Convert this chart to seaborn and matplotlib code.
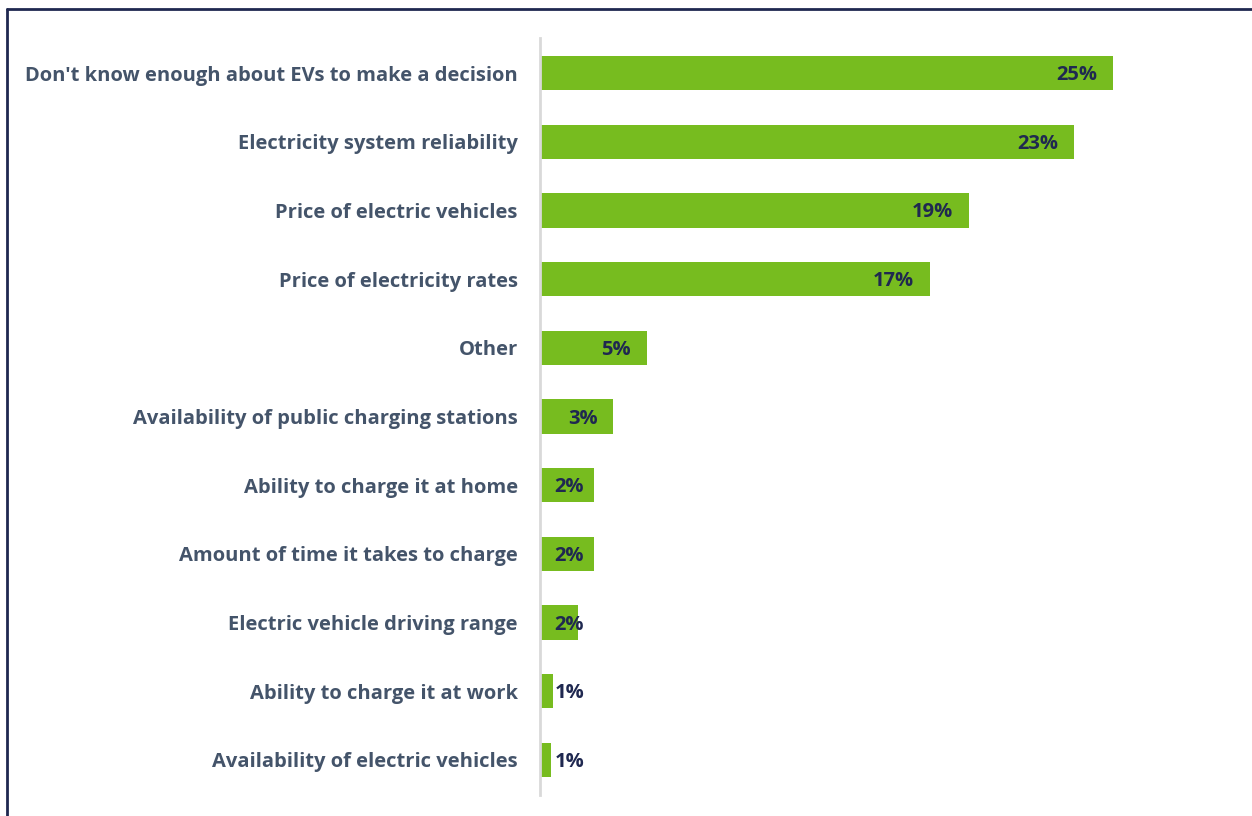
import matplotlib
matplotlib.use("Agg")
import matplotlib.pyplot as plt
import matplotlib.transforms as mtransforms
import seaborn as sns
import pandas as pd
from matplotlib.lines import Line2D

categories = [
    "Don't know enough about EVs to make a decision",
    "Electricity system reliability",
    "Price of electric vehicles",
    "Price of electricity rates",
    "Other",
    "Availability of public charging stations",
    "Ability to charge it at home",
    "Amount of time it takes to charge",
    "Electric vehicle driving range",
    "Ability to charge it at work",
    "Availability of electric vehicles",
]
values = [25.0, 23.3, 18.7, 17.0, 4.67, 3.2, 2.36, 2.36, 1.66, 0.57, 0.48]
value_labels = ["25%", "23%", "19%", "17%", "5%", "3%", "2%", "2%", "2%", "1%", "1%"]

bar_color = "#77BC1F"
label_color = "#44546A"
value_color = "#1F2850"

sns.set_theme(style="white")
plt.rcParams["font.family"] = ["Open Sans", "DejaVu Sans"]

df = pd.DataFrame({"cat": categories, "val": values})

fig = plt.figure(figsize=(12.52, 8.16), dpi=100)
ax = fig.add_axes([540 / 1252, 1 - 795 / 816, 619 / 1252, (795 - 38) / 816])

sns.barplot(data=df, x="val", y="cat", orient="h", color=bar_color,
            width=0.5, saturation=1, ax=ax, edgecolor="none")

ax.set_xlim(0, 27)
ax.set_ylim(10.51, -0.51)
ax.set_xlabel("")
ax.set_ylabel("")
ax.set_xticks([])
for s in ["top", "right", "bottom"]:
    ax.spines[s].set_visible(False)
ax.spines["left"].set_color("#D9D9D9")
ax.spines["left"].set_linewidth(2)
ax.tick_params(axis="y", length=0, pad=16)
shift = mtransforms.ScaledTranslation(0, -2 / 100, fig.dpi_scale_trans)
for t in ax.get_yticklabels():
    t.set_fontsize(14.5)
    t.set_fontweight("bold")
    t.set_color(label_color)

for i, (v, lab) in enumerate(zip(values, value_labels)):
    x = max(v - 0.7, 1.92)
    ax.text(x, i, lab, ha="right", va="center", fontsize=14.5,
            fontweight="bold", color=value_color,
            transform=ax.transData + shift)

# frame border (top and left visible)
fig.add_artist(Line2D([7 / 1252, 7 / 1252], [0, 1 - 9 / 816], transform=fig.transFigure,
                      color="#1F2850", linewidth=2))
fig.add_artist(Line2D([7 / 1252, 1], [1 - 9 / 816, 1 - 9 / 816], transform=fig.transFigure,
                      color="#1F2850", linewidth=2))

fig.savefig("out.png", dpi=100)
